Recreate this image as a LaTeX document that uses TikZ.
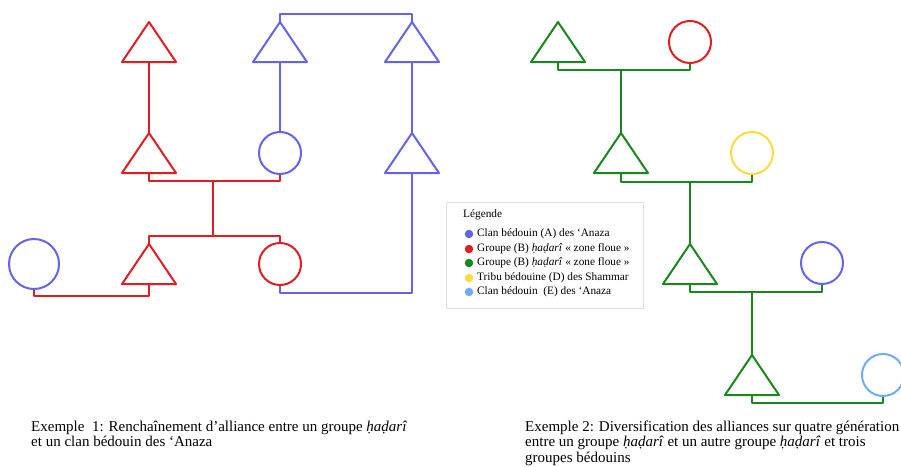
\documentclass[tikz,border=0pt]{standalone}
\usepackage{fontspec}
\setmainfont{Liberation Serif}
\usetikzlibrary{calc}
\definecolor{cred}{RGB}{222,30,35}
\definecolor{cblue}{RGB}{100,100,235}
\definecolor{cgreen}{RGB}{25,135,30}
\definecolor{cyellow}{RGB}{250,220,60}
\definecolor{clblue}{RGB}{110,170,245}
\tikzset{
  kin/.style={line width=2pt, line join=round},
  person/.style={circle, draw, line width=2pt, minimum size=42pt, inner sep=0pt},
  dot/.style={circle, fill, inner sep=0pt, minimum size=8.5pt},
  legtext/.style={anchor=west, inner sep=0pt, font=\fontsize{11.3}{13}\selectfont},
  caption/.style={anchor=north west, align=left, inner sep=0pt, font=\fontsize{15}{15.5}\selectfont}
}
% triangle: name, x, apex y, colour
\newcommand\kintri[4]{%
  \draw[kin,#4] (#2-27,#3+40) -- (#2,#3) -- (#2+27,#3+40) -- cycle;
  \coordinate (#1t) at (#2,#3);
  \coordinate (#1b) at (#2,#3+40);}
\begin{document}
\begin{tikzpicture}[x=1pt,y=-1pt]
\useasboundingbox (0,0) rectangle (901,466);
% ---------- Example 1 ----------
\kintri{rA}{149}{22}{cred}
\kintri{rB}{149}{133}{cred}
\kintri{rC}{149}{244}{cred}
\kintri{bA}{280}{22}{cblue}
\kintri{bB}{412}{22}{cblue}
\kintri{bC}{412}{133}{cblue}
\node[person,cblue] (bc1) at (280,153) {};
\node[person,cred] (rc1) at (280,264) {};
\node[person,cblue,minimum size=50pt] (bc0) at (34,264) {};
\coordinate (m1) at (213,181);
\coordinate (m2) at (213,236);
\draw[kin,cred] (rAb) -- (rBt);
\draw[kin,cblue] (bAb) -- (bc1.north);
\draw[kin,cblue] (bBb) -- (bCt);
\draw[kin,cblue] (bAt) -- ++(0,-8) -| (bBt);
\draw[kin,cred] (rBb) -- ++(0,8) -| (bc1.south);
\draw[kin,cred] (m1) -- (m2);
\draw[kin,cred] (rCt) -- ++(0,-8) -| (rc1.north);
\draw[kin,cred] (bc0.south) -- ++(0,6) -| (rCb);
\draw[kin,cblue] (rc1.south) -- ++(0,7) -| (bCb);
% ---------- Example 2 ----------
\kintri{g1}{558}{22}{cgreen}
\kintri{g2}{621}{133}{cgreen}
\kintri{g3}{690}{244}{cgreen}
\kintri{g4}{752}{355}{cgreen}
\node[person,cred] (c1) at (690,42) {};
\node[person,cyellow] (c2) at (752,153) {};
\node[person,cblue] (c3) at (822,263) {};
\node[person,clblue] (c4) at (883,375) {};
\coordinate (j1) at (621,70);
\coordinate (j2) at (690,182);
\coordinate (j3) at (752,292);
\draw[kin,cgreen] (g1b) -- ++(0,8) -| (c1.south);
\draw[kin,cgreen] (j1) -- (g2t);
\draw[kin,cgreen] (g2b) -- ++(0,9) -| (c2.south);
\draw[kin,cgreen] (j2) -- (g3t);
\draw[kin,cgreen] (g3b) -- ++(0,8) -| (c3.south);
\draw[kin,cgreen] (j3) -- (g4t);
\draw[kin,cgreen] (g4b) -- ++(0,8) -| (c4.south);
% ---------- Legend ----------
\node[draw=black!12, line width=0.6pt, minimum width=197pt, minimum height=106pt, inner sep=0pt, anchor=north west] (leg) at (446,202) {};
\node[legtext] (lt) at (463,215) {Légende};
\node[dot,cblue] (d1) at (469,234) {};
\node[dot,cred] (d2) at (469,249) {};
\node[dot,cgreen] (d3) at (469,263) {};
\node[dot,cyellow] (d4) at (469,278) {};
\node[dot,clblue] (d5) at (469,292) {};
\node[legtext] (l1) at (477,234) {Clan bédouin (A) des ‘Anaza};
\node[legtext] (l2) at (477,249) {Groupe (B) \textit{ḥaḍarî} « zone floue »};
\node[legtext] (l3) at (477,263) {Groupe (B) \textit{ḥaḍarî} « zone floue »};
\node[legtext] (l4) at (477,278) {Tribu bédouine (D) des Shammar};
\node[legtext] (l5) at (477,292) {Clan bédouin~ (E) des ‘Anaza};
% ---------- Captions ----------
\node[caption] (cap1) at (31,420) {\strut Exemple~ 1: Renchaînement d’alliance entre un groupe \textit{ḥaḍarî}\\et un clan bédouin des ‘Anaza};
\node[caption] (cap2) at (525,420) {\strut Exemple 2: Diversification des alliances sur quatre génération\\entre un groupe \textit{ḥaḍarî} et un autre groupe \textit{ḥaḍarî} et trois\\groupes bédouins};
\end{tikzpicture}
\end{document}
